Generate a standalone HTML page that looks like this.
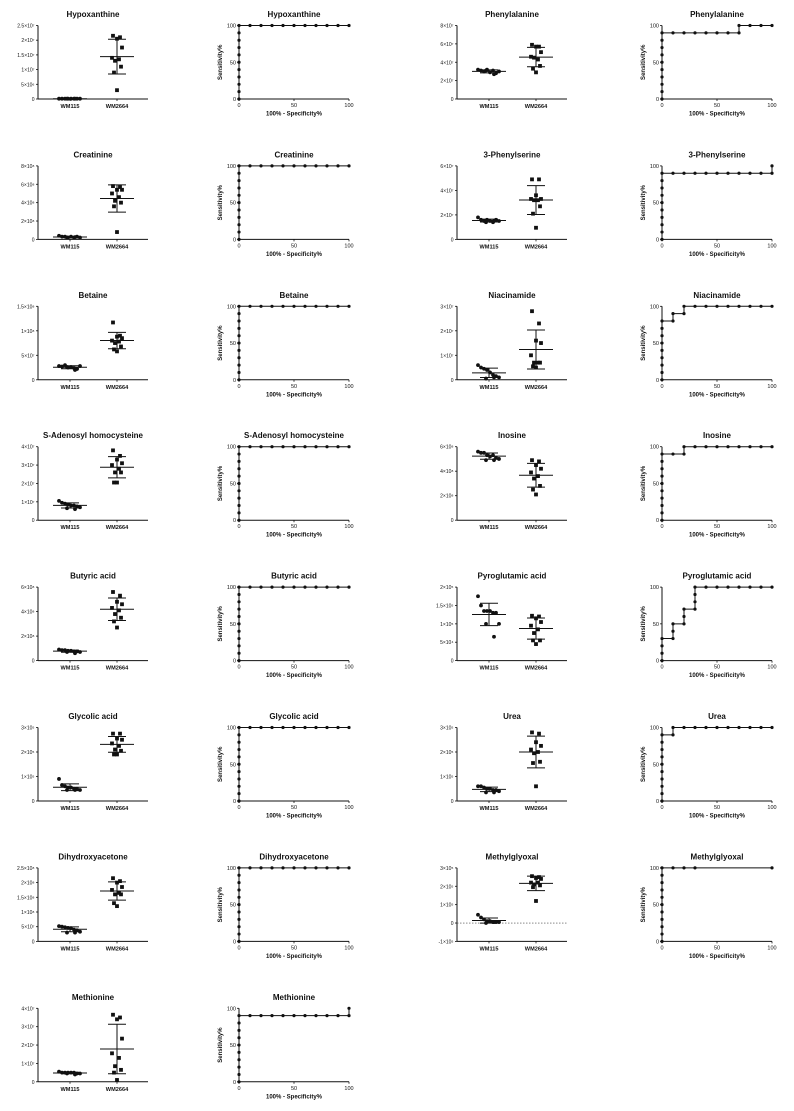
<!DOCTYPE html>
<html><head><meta charset="utf-8">
<style>
html,body{margin:0;padding:0;background:#fff;}
svg{display:block;font-family:"Liberation Sans",Arial,sans-serif;}
</style></head>
<body>
<svg id="fig" width="794" height="1111" viewBox="0 0 794 1111" xmlns="http://www.w3.org/2000/svg"></svg>
<script>
// ---- data ----
const scatterTitles = ["Hypoxanthine","Phenylalanine","Creatinine","3-Phenylserine","Betaine","Niacinamide","S-Adenosyl homocysteine","Inosine","Butyric acid","Pyroglutamic acid","Glycolic acid","Urea","Dihydroxyacetone","Methylglyoxal","Methionine"];
const yMins = [0,0,0,0,0,0,0,0,0,0,0,0,0,-1,0];
const yMaxs = [2.5,8,8,6,1.5,3,4,6,6,2,3,3,2.5,3,4];
const yTickValues = [
 [0,0.5,1,1.5,2,2.5],[0,2,4,6,8],[0,2,4,6,8],[0,2,4,6],[0,0.5,1,1.5],[0,1,2,3],[0,1,2,3,4],[0,2,4,6],[0,2,4,6],[0,0.5,1,1.5,2],[0,1,2,3],[0,1,2,3],[0,0.5,1,1.5,2,2.5],[-1,0,1,2,3],[0,1,2,3,4]];
const yTickLabels = [
 ["0","5×10⁶","1×10⁷","1.5×10⁷","2×10⁷","2.5×10⁷"],
 ["0","2×10⁷","4×10⁷","6×10⁷","8×10⁷"],
 ["0","2×10⁸","4×10⁸","6×10⁸","8×10⁸"],
 ["0","2×10⁷","4×10⁷","6×10⁷"],
 ["0","5×10⁷","1×10⁸","1.5×10⁸"],
 ["0","1×10⁷","2×10⁷","3×10⁷"],
 ["0","1×10⁷","2×10⁷","3×10⁷","4×10⁷"],
 ["0","2×10⁸","4×10⁸","6×10⁸"],
 ["0","2×10⁸","4×10⁸","6×10⁸"],
 ["0","5×10⁴","1×10⁵","1.5×10⁵","2×10⁵"],
 ["0","1×10⁵","2×10⁵","3×10⁵"],
 ["0","1×10⁵","2×10⁵","3×10⁵"],
 ["0","5×10⁷","1×10⁸","1.5×10⁸","2×10⁸","2.5×10⁸"],
 ["-1×10⁵","0","1×10⁵","2×10⁵","3×10⁵"],
 ["0","1×10⁷","2×10⁷","3×10⁷","4×10⁷"]];
const groupLabels = ["WM115","WM2664"];
const wm115Values = [
 [0.01,0.01,0.01,0.01,0.01,0.01,0.01,0.01,0.01,0.01],
 [3.2,3.1,3.0,3.2,2.9,3.1,2.8,3.0,3.1,2.7],
 [0.4,0.3,0.3,0.2,0.3,0.2,0.3,0.2,0.2,0.25],
 [1.8,1.6,1.5,1.6,1.5,1.4,1.6,1.5,1.4,1.5],
 [0.28,0.27,0.3,0.25,0.26,0.24,0.22,0.28,0.26,0.2],
 [0.6,0.5,0.45,0.4,0.3,0.2,0.15,0.1,0.05,0.1],
 [1.05,0.95,0.9,0.85,0.8,0.8,0.75,0.7,0.65,0.6],
 [5.6,5.5,5.5,5.3,5.2,5.3,5.1,5.0,4.9,4.9],
 [0.9,0.85,0.85,0.8,0.8,0.75,0.75,0.7,0.7,0.6],
 [1.75,1.5,1.35,1.35,1.35,1.3,1.3,1.0,1.0,0.65],
 [0.9,0.65,0.6,0.55,0.55,0.5,0.5,0.45,0.45,0.45],
 [0.6,0.6,0.55,0.5,0.5,0.45,0.45,0.4,0.35,0.35],
 [0.52,0.5,0.48,0.46,0.45,0.4,0.38,0.33,0.3,0.3],
 [0.45,0.3,0.2,0.1,0.1,0.05,0.05,0.05,0.0,0.05],
 [0.55,0.5,0.5,0.5,0.5,0.5,0.45,0.45,0.45,0.4]];
const wm2664Values = [
 [2.15,2.1,2.05,1.75,1.4,1.35,1.3,1.1,0.9,0.3],
 [5.9,5.7,5.7,5.1,4.6,4.3,4.5,3.6,3.3,2.9],
 [5.8,5.7,5.4,5.4,5.0,4.6,4.2,4.0,3.6,0.8],
 [4.9,4.9,3.6,3.3,3.3,3.2,3.2,2.7,2.1,0.95],
 [1.17,0.9,0.88,0.85,0.8,0.78,0.75,0.68,0.62,0.58],
 [2.8,2.3,1.6,1.5,1.0,0.7,0.7,0.7,0.55,0.5],
 [3.8,3.5,3.3,3.1,3.0,2.8,2.6,2.6,2.05,2.05],
 [4.9,4.8,4.5,4.2,3.9,3.6,3.4,2.8,2.5,2.1],
 [5.6,5.3,4.8,4.6,4.3,4.1,3.8,3.5,3.2,2.7],
 [1.22,1.2,1.15,1.05,0.95,0.85,0.75,0.55,0.55,0.45],
 [2.75,2.75,2.55,2.5,2.35,2.25,2.1,2.05,1.9,1.9],
 [2.8,2.75,2.4,2.25,2.1,2.0,1.95,1.6,1.55,0.6],
 [2.15,2.05,2.0,1.85,1.75,1.65,1.6,1.6,1.3,1.2],
 [2.55,2.5,2.45,2.4,2.2,2.2,2.1,2.05,1.95,1.2],
 [3.65,3.5,3.4,2.35,1.55,1.3,0.85,0.65,0.5,0.1]];
// ROC curves: false-positive % and sensitivity %
const perfectFpr = [0,0,0,0,0,0,0,0,0,0,0,10,20,30,40,50,60,70,80,90,100];
const perfectTpr = [0,10,20,30,40,50,60,70,80,90,100,100,100,100,100,100,100,100,100,100,100];
const rocFpr = [
 perfectFpr,
 [0,0,0,0,0,0,0,0,0,0,10,20,30,40,50,60,70,70,80,90,100],
 perfectFpr,
 [0,0,0,0,0,0,0,0,0,0,10,20,30,40,50,60,70,80,90,100,100],
 perfectFpr,
 [0,0,0,0,0,0,0,0,0,10,10,20,20,30,40,50,60,70,80,90,100],
 perfectFpr,
 [0,0,0,0,0,0,0,0,0,0,10,20,20,30,40,50,60,70,80,90,100],
 perfectFpr,
 [0,0,0,0,10,10,10,20,20,20,30,30,30,30,40,50,60,70,80,90,100],
 perfectFpr,
 [0,0,0,0,0,0,0,0,0,0,10,10,20,30,40,50,60,70,80,90,100],
 perfectFpr,
 [0,0,0,0,0,0,0,0,0,0,0,10,20,30,100],
 [0,0,0,0,0,0,0,0,0,0,10,20,30,40,50,60,70,80,90,100,100]];
const rocTpr = [
 perfectTpr,
 [0,10,20,30,40,50,60,70,80,90,90,90,90,90,90,90,90,100,100,100,100],
 perfectTpr,
 [0,10,20,30,40,50,60,70,80,90,90,90,90,90,90,90,90,90,90,90,100],
 perfectTpr,
 [0,10,20,30,40,50,60,70,80,80,90,90,100,100,100,100,100,100,100,100,100],
 perfectTpr,
 [0,10,20,30,40,50,60,70,80,90,90,90,100,100,100,100,100,100,100,100,100],
 perfectTpr,
 [0,10,20,30,30,40,50,50,60,70,70,80,90,100,100,100,100,100,100,100,100],
 perfectTpr,
 [0,10,20,30,40,50,60,70,80,90,90,100,100,100,100,100,100,100,100,100,100],
 perfectTpr,
 [0,10,20,30,40,50,60,70,80,90,100,100,100,100,100],
 [0,10,20,30,40,50,60,70,80,90,90,90,90,90,90,90,90,90,90,90,100]];

// ---- drawing ----
const NS = "http://www.w3.org/2000/svg";
const svg = document.getElementById("fig");
function mk(tag, attrs, parent){
  const e = document.createElementNS(NS, tag);
  for (const k in attrs) e.setAttribute(k, attrs[k]);
  (parent||svg).appendChild(e);
  return e;
}
function slug(s){return s.toLowerCase().replace(/[^a-z0-9]+/g,'-').replace(/^-|-$/g,'');}
const jit1 = [-11,-8,-5,-2,1,4,7,10,-3,5];
const jit2 = [-4,3,0,5,-5,2,-2,4,-3,0];
const C = "#111";

function mean(a){return a.reduce((s,v)=>s+v,0)/a.length;}
function sd(a){const m=mean(a);return Math.sqrt(a.reduce((s,v)=>s+(v-m)*(v-m),0)/(a.length-1));}

function scatterPanel(i, ax, titleY){
  const g = mk("g", {});
  
  
  const top = titleY + 11.5, bot = titleY + 85;
  const y = v => bot - (v - yMins[i]) / (yMaxs[i] - yMins[i]) * (bot - top);
  const gx = [ax + 32, ax + 79];
  const t = mk("text", {x: ax + 55, y: titleY + 3, "text-anchor":"middle", "font-size":"8", "font-weight":"bold", fill:C}, g);
  t.textContent = scatterTitles[i];
  
  
  const yAxis = mk("line", {x1:ax, y1:top, x2:ax, y2:bot, stroke:C, "stroke-width":"1"}, g);
  
  
  const xAxisY = bot;
  const xAxis = mk("line", {x1:ax, y1:xAxisY, x2:ax+110, y2:xAxisY, stroke:C, "stroke-width":"1"}, g);
  
  
  if (yMins[i] < 0) {
    const z = mk("line", {x1:ax, y1:y(0), x2:ax+110, y2:y(0), stroke:"#444", "stroke-width":"0.6", "stroke-dasharray":"1.5,1.5"}, g);
    
    
  }
  yTickValues[i].forEach((v, k) => {
    mk("line", {x1:ax-2, y1:y(v), x2:ax, y2:y(v), stroke:C, "stroke-width":"0.8"}, g);
    const tl = mk("text", {x:ax-3.5, y:y(v)+2, "text-anchor":"end", "font-size":"5", fill:C}, g);
    tl.textContent = yTickLabels[i][k];
    
    
  });
  groupLabels.forEach((lab, k) => {
    mk("line", {x1:gx[k], y1:bot, x2:gx[k], y2:bot+2, stroke:C, "stroke-width":"0.8"}, g);
    const cl = mk("text", {x:gx[k], y:bot+9, "text-anchor":"middle", "font-size":"5.6", "font-weight":"bold", fill:C}, g);
    cl.textContent = lab;
    
    
  });
  wm115Values[i].forEach((v, k) => {
    const p = mk("circle", {cx:gx[0]+jit1[k], cy:y(v), r:1.9, fill:C}, g);
    
    
  });
  wm2664Values[i].forEach((v, k) => {
    const p = mk("rect", {x:gx[1]+jit2[k]-1.9, y:y(v)-1.9, width:3.8, height:3.8, fill:C}, g);
    
    
  });
  [wm115Values[i], wm2664Values[i]].forEach((arr, k) => {
    const m = mean(arr), s = sd(arr), cx = gx[k];
    const eb = mk("g", {stroke:C, "stroke-width":"1"}, g);
    
    
    mk("line", {x1:cx-17, y1:y(m), x2:cx+17, y2:y(m)}, eb);
    mk("line", {x1:cx, y1:y(m-s), x2:cx, y2:y(m+s)}, eb);
    mk("line", {x1:cx-9, y1:y(m+s), x2:cx+9, y2:y(m+s)}, eb);
    mk("line", {x1:cx-9, y1:y(m-s), x2:cx+9, y2:y(m-s)}, eb);
  });
}

function rocPanel(i, ax, titleY){
  const g = mk("g", {});
  
  
  const top = titleY + 11.5, bot = titleY + 85, W = 110;
  const x = v => ax + v / 100 * W;
  const y = v => bot - v / 100 * (bot - top);
  const t = mk("text", {x: ax + 55, y: titleY + 3, "text-anchor":"middle", "font-size":"8", "font-weight":"bold", fill:C}, g);
  t.textContent = scatterTitles[i];
  
  
  const ya = mk("line", {x1:ax, y1:top, x2:ax, y2:bot, stroke:C, "stroke-width":"1"}, g);
  
  
  const xa = mk("line", {x1:ax, y1:bot, x2:ax+W, y2:bot, stroke:C, "stroke-width":"1"}, g);
  
  
  [0,50,100].forEach(v => {
    mk("line", {x1:ax-2, y1:y(v), x2:ax, y2:y(v), stroke:C, "stroke-width":"0.8"}, g);
    const a = mk("text", {x:ax-3, y:y(v)+2, "text-anchor":"end", "font-size":"5.5", fill:C}, g);
    a.textContent = v;
    
    
    mk("line", {x1:x(v), y1:bot, x2:x(v), y2:bot+2, stroke:C, "stroke-width":"0.8"}, g);
    const b = mk("text", {x:x(v), y:bot+8, "text-anchor":"middle", "font-size":"5.5", fill:C}, g);
    b.textContent = v;
    
    
  });
  const xl = mk("text", {x:ax+55, y:bot+16.5, "text-anchor":"middle", "font-size":"6", "font-weight":"bold", fill:C}, g);
  xl.textContent = "100% - Specificity%";
  
  
  const yc = (top+bot)/2;
  const yl = mk("text", {x:ax-17, y:yc, "text-anchor":"middle", "font-size":"6", "font-weight":"bold", fill:C, transform:`rotate(-90 ${ax-17} ${yc})`}, g);
  yl.textContent = "Sensitivity%";
  
  
  const fx = rocFpr[i], ty = rocTpr[i];
  const pts = fx.map((v,k) => x(v).toFixed(2) + "," + y(ty[k]).toFixed(2)).join(" ");
  const line = mk("polyline", {points:pts, fill:"none", stroke:C, "stroke-width":"1"}, g);
  
  
  fx.forEach((v,k) => {
    const p = mk("circle", {cx:x(v), cy:y(ty[k]), r:1.6, fill:C}, g);
    
    
  });
}

for (let i = 0; i < scatterTitles.length; i++) {
  const row = Math.floor(i / 2), col = i % 2;
  const titleY = 14 + 140.4 * row;
  scatterPanel(i, col === 0 ? 38 : 457, titleY);
  rocPanel(i, col === 0 ? 239 : 662, titleY);
}
</script>
</body></html>
